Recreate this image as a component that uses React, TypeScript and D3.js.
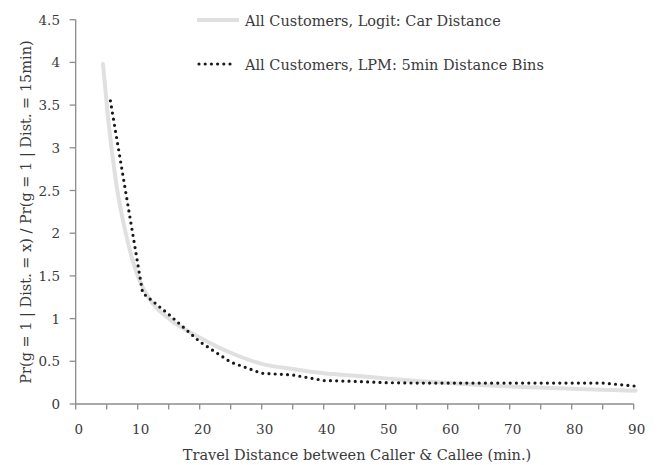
import React from "react";
import * as d3 from "d3";

const xTicks = [0, 10, 20, 30, 40, 50, 60, 70, 80, 90];
const yTicks = [0, 0.5, 1, 1.5, 2, 2.5, 3, 3.5, 4, 4.5];

const logitX = [4.4, 5.2, 6.5, 8.2, 10, 12, 15, 20, 25, 30, 35, 40, 45, 50, 55, 60, 70, 80, 90.3];
const logitY = [3.98, 3.36, 2.6, 1.96, 1.5, 1.22, 1.0, 0.78, 0.6, 0.47, 0.41, 0.36, 0.33, 0.3, 0.27, 0.245, 0.205, 0.18, 0.155];

const lpmX = [5.6, 10.8, 15, 20, 25, 30, 35, 40, 45, 50, 55, 60, 65, 70, 75, 80, 85, 90.2];
const lpmY = [3.55, 1.3, 1.05, 0.73, 0.49, 0.36, 0.34, 0.275, 0.265, 0.25, 0.245, 0.245, 0.245, 0.245, 0.245, 0.245, 0.245, 0.21];

const legendLabels = ["All Customers, Logit: Car Distance", "All Customers, LPM: 5min Distance Bins"];

const W = 658;
const H = 465;
const FONT = "'DejaVu Serif', serif";

export default function App() {
  const x = d3.scaleLinear().domain([0, 90]).range([75.7, 633.7]);
  const y = d3.scaleLinear().domain([0, 4.5]).range([404, 19.7]);
  const minor = d3.range(0, 91, 5);

  const logitPts = logitX.map((v, i) => [v, logitY[i]] as [number, number]);
  const lpmPts = lpmX.map((v, i) => [v, lpmY[i]] as [number, number]);
  const smooth = d3.line<[number, number]>().x((d) => x(d[0])).y((d) => y(d[1])).curve(d3.curveMonotoneX);
  const straight = d3.line<[number, number]>().x((d) => x(d[0])).y((d) => y(d[1]));

  const axisColor = "#8c8c8c";
  const txt = "#3a3a3a";
  return (
    <svg width={W} height={H} style={{ position: "absolute", left: 0, top: 0 }} fontFamily={FONT}>
      <rect width={W} height={H} fill="#fff" />
      {/* y axis */}
      <line x1={x(0)} x2={x(0)} y1={y(4.5)} y2={y(0)} stroke={axisColor} strokeWidth={1.3} />
      {yTicks.map((t) => (
        <g key={"y" + t}>
          <line x1={x(0) - 6} x2={x(0)} y1={y(t)} y2={y(t)} stroke={axisColor} strokeWidth={1.3} />
          <text x={60} y={y(t) + 5} textAnchor="end" fontSize={13.5} fill={txt}>
            {t}
          </text>
        </g>
      ))}
      {/* x axis */}
      <line x1={x(0)} x2={x(90)} y1={y(0)} y2={y(0)} stroke={axisColor} strokeWidth={1.3} />
      {minor.map((t) => (
        <line key={"m" + t} x1={x(t)} x2={x(t)} y1={y(0)} y2={y(0) + 5.5} stroke={axisColor} strokeWidth={1.3} />
      ))}
      {xTicks.map((t) => (
        <text key={"x" + t} x={x(t) + 3} y={433.5} textAnchor="middle" fontSize={13.5} fill={txt}>
          {t}
        </text>
      ))}
      {/* series */}
      <path d={smooth(logitPts) || ""} fill="none" stroke="#e0e0e0" strokeWidth={4} strokeLinecap="round" />
      <path d={straight(lpmPts) || ""} fill="none" stroke="#1a1a1a" strokeWidth={3.2} strokeDasharray="0 6.2" strokeLinecap="round" />
      {/* legend */}
      <line x1={197} x2={239} y1={20} y2={20} stroke="#e0e0e0" strokeWidth={4} />
      <text x={245} y={25.5} fontSize={14.5} fill={txt}>{legendLabels[0]}</text>
      <line x1={199} x2={236} y1={64} y2={64} stroke="#1a1a1a" strokeWidth={3.2} strokeDasharray="0 6.2" strokeLinecap="round" />
      <text x={245} y={69.5} fontSize={14.5} fill={txt}>{legendLabels[1]}</text>
      {/* titles */}
      <text x={357} y={460} textAnchor="middle" fontSize={14.5} fill={txt}>
        Travel Distance between Caller &amp; Callee (min.)
      </text>
      <text transform={`translate(31,212) rotate(-90)`} textAnchor="middle" fontSize={14.5} fill={txt}>
        Pr(g = 1 | Dist. = x) / Pr(g = 1 | Dist. = 15min)
      </text>
    </svg>
  );
}
